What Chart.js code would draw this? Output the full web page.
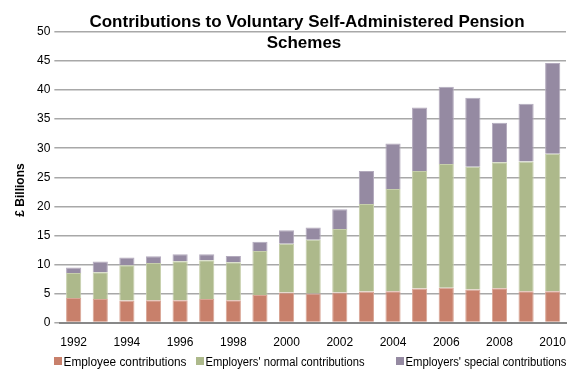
<!DOCTYPE html>
<html>
<head>
<meta charset="utf-8">
<script src="https://cdn.jsdelivr.net/npm/chart.js@4/dist/chart.umd.min.js"></script>
<style>
html,body{margin:0;padding:0;background:#fff;}
#wrap{width:570px;height:369px;position:relative;}
</style>
</head>
<body>
<div id="wrap"><canvas id="pensionChart" width="570" height="369"></canvas></div>
<script>

const years=["1992","1993","1994","1995","1996","1997","1998","1999","2000","2001",
"2002","2003","2004","2005","2006","2007","2008","2009","2010"];

// £ billions
const employee=[4.25,4.08,3.8,3.86,3.86,4.08,3.86,4.77,5.18,5.0,
5.2,5.33,5.4,5.85,6.0,5.7,5.9,5.4,5.4];

const employerNormal=[4.29,4.58,6.06,6.4,6.69,6.64,6.52,7.53,8.4,9.25,
10.9,15.07,17.6,20.25,21.3,21.1,21.7,22.3,23.65];

const employerSpecial=[0.93,1.84,1.32,1.14,1.2,1.03,1.08,1.6,2.29,2.1,
3.4,5.7,7.8,10.9,13.3,11.9,6.8,9.95,15.6];

const titleLines=["Contributions to Voluntary Self-Administered Pension","Schemes"];
const yTitle="£ Billions";

const font="'Liberation Sans', Arial, Helvetica, sans-serif";

// title over the top of the plot, y title, and a single-row legend along the bottom
const decorations={
id:"decorations",
afterDraw(chart){
const ctx=chart.ctx;
ctx.save();
ctx.fillStyle="#000";
ctx.textBaseline="alphabetic";

ctx.font="bold 17px "+font;
ctx.textAlign="center";
ctx.fillText(titleLines[0],307,27);
ctx.fillText(titleLines[1],304,48);

ctx.save();
ctx.translate(24,190);
ctx.rotate(-Math.PI/2);
ctx.font="bold 12px "+font;
ctx.fillText(yTitle,0,0);
ctx.restore();

ctx.font="12px "+font;
ctx.textAlign="left";
const starts=[54,196,396];
const widths=[123,159,161];
chart.data.datasets.forEach((ds,i)=>{
ctx.fillStyle=ds.backgroundColor;
ctx.fillRect(starts[i],357,8,8);
ctx.fillStyle="#000";
ctx.fillText(ds.label,starts[i]+9.5,365.5,widths[i]);
});
ctx.restore();
}
};

function bar(label,data,fill,edge){
return {
label:label,
data:data,
backgroundColor:fill,
borderColor:edge,
borderWidth:1,
categoryPercentage:1,
barPercentage:0.57
};
}

new Chart(document.getElementById("pensionChart"),{
type:"bar",
data:{
labels:years,
datasets:[
bar("Employee contributions",employee,"#c8806b","#d9a595"),
bar("Employers' normal contributions",employerNormal,"#adb98b","#c6cfab"),
bar("Employers' special contributions",employerSpecial,"#958aa2","#b3aabd")
]
},
options:{
responsive:false,
animation:false,
layout:{padding:{top:32,right:4,left:33,bottom:17}},
plugins:{
title:{display:false},
tooltip:{enabled:false},
legend:{display:false}
},
scales:{
x:{
stacked:true,
// invisible tick marks give the gap under the axis
grid:{display:true,drawOnChartArea:false,drawTicks:true,tickLength:11,tickColor:"rgba(0,0,0,0)"},
border:{color:"#888",width:2},
ticks:{
color:"#000",
font:{family:font,size:12},
maxRotation:0,
autoSkip:false,
padding:2,
callback:function(v,i){return i%2===0?this.getLabelForValue(v):"";}
}
},
y:{
stacked:true,
min:0,
max:50,
ticks:{stepSize:5,color:"#000",font:{family:font,size:12},padding:4},
grid:{color:"#a8a8a8",lineWidth:1.5,tickLength:6},
border:{display:false}
}
}
},
plugins:[decorations]
});
</script>
</body>
</html>
